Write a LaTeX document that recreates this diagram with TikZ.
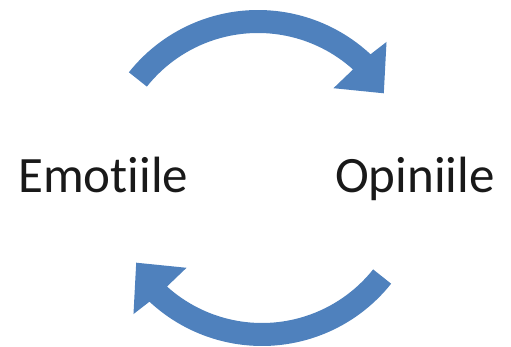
\documentclass[tikz,border=0pt]{standalone}
\usepackage{fontspec}
\setmainfont{Carlito}[Ligatures=NoCommon]
\usepackage{xcolor}
\usepackage{tikz}
\definecolor{cycleblue}{RGB}{79,129,189}

\begin{document}
\begin{tikzpicture}[
    x=1pt, y=1pt,
    word/.style={anchor=base west, inner sep=0pt, text=black!90,
                 font=\fontsize{51}{60}\selectfont},
    bend arrow/.style={fill=cycleblue}
  ]
    \useasboundingbox (0,0) rectangle (511,347);
    \coordinate (topc) at (258,172);
    \coordinate (botc) at (262,166);

    \node[word] (emo) at (18,154) {Emotiile};
    \node[word] (opi) at (335,154) {Opiniile};

    % upper arrow, left to right
    \fill[bend arrow] ([shift={(141.5:165pt)}]topc)
        arc[start angle=141.5, end angle=47, radius=165pt]
        -- ([shift={(46:185pt)}]topc) -- ([shift={(33:150pt)}]topc)
        -- ([shift={(49:115pt)}]topc) -- ([shift={(48:142pt)}]topc)
        arc[start angle=48, end angle=141.5, radius=142pt] -- cycle;
    % lower arrow, right to left
    \fill[bend arrow] ([shift={(-38.5:165pt)}]botc)
        arc[start angle=-38.5, end angle=-133, radius=165pt]
        -- ([shift={(-134:185pt)}]botc) -- ([shift={(-147:150pt)}]botc)
        -- ([shift={(-131:115pt)}]botc) -- ([shift={(-132:142pt)}]botc)
        arc[start angle=-132, end angle=-38.5, radius=142pt] -- cycle;
\end{tikzpicture}
\end{document}
